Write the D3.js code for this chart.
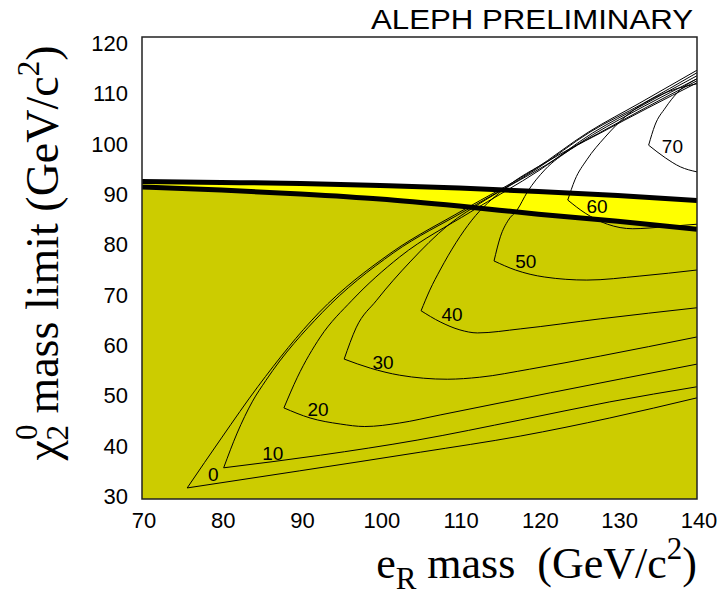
<!DOCTYPE html>
<html>
<head>
<meta charset="utf-8">
<script src="https://cdn.jsdelivr.net/npm/d3@7"></script>
<style>
  body { margin: 0; background: #fff; }
  #chart { width: 718px; height: 595px; }
  text { white-space: pre; }
</style>
</head>
<body>
<div id="chart"></div>
<script>
// axis ticks
const xTicks = [70, 80, 90, 100, 110, 120, 130, 140];
const yTicks = [30, 40, 50, 60, 70, 80, 90, 100, 110, 120];

// excluded band edges (thick black lines)
const bandX = [70, 80, 90, 100, 110, 120, 130, 140];
const bandUpper = [93.1, 92.9, 92.7, 92.3, 91.8, 91.1, 90.3, 89.3];
const bandLower = [92.0, 91.4, 90.6, 89.6, 88.2, 86.6, 85.2, 83.6];

// contour levels, each drawn as two branches from the cusp
const contourLevels = [0, 10, 20, 30, 40, 50, 60, 70];
const contourUpper = [
  [[75.7, 32.2], [80.1, 42.3], [84.6, 52.3], [92.3, 67.0], [101.4, 78.9], [110.5, 87.4], [119.4, 95.4], [126.3, 102.9], [132.8, 108.7], [140, 115.2]],
  [[80.3, 36.2], [82.0, 43.1], [83.9, 49.3], [85.6, 53.5], [92.7, 67.0], [101.7, 78.9], [110.9, 87.4], [119.8, 95.6], [126.5, 102.9], [133.1, 108.5], [140, 114.7]],
  [[87.9, 48.1], [89.6, 54.2], [92.5, 62.2], [96.5, 69.5], [102.5, 78.1], [111.4, 87.0], [120.2, 95.4], [126.8, 102.7], [133.2, 108.3], [140, 114.1]],
  [[95.5, 57.8], [97.0, 64.0], [99.6, 69.5], [103.8, 77.1], [108.6, 84.4], [113.3, 89.4], [121.0, 96.4], [127.0, 102.5], [133.4, 108.1], [140, 113.5]],
  [[105.2, 67.4], [106.3, 71.5], [107.6, 75.5], [111.6, 85.4], [115.5, 91.4], [121.5, 97.4], [127.4, 102.5], [133.7, 107.9], [140, 113.1]],
  [[114.4, 77.3], [115.2, 82.1], [116.2, 85.4], [117.3, 87.4], [118.6, 91.0], [120.8, 95.4], [124.0, 99.4], [127.8, 102.7], [133.8, 107.7], [140, 112.7]],
  [[123.7, 89.4], [124.6, 93.4], [126.1, 97.4], [128.4, 101.9], [131.2, 106.3], [134.1, 109.3], [137.0, 111.3], [140, 112.5]],
  [[133.9, 100.3], [134.7, 104.3], [136.0, 107.7], [137.5, 110.7], [140, 113.5]]
];
const contourLower = [
  [[75.7, 32.2], [89.9, 35.6], [105.1, 39.3], [117.7, 42.5], [129.0, 46.1], [140, 50.1]],
  [[80.3, 36.2], [92.5, 38.7], [104.7, 41.7], [117.7, 45.7], [129.0, 49.3], [140, 52.3]],
  [[87.9, 48.1], [91.2, 46.1], [95.0, 44.9], [98.1, 44.4], [102.5, 45.1], [107.6, 46.7], [121.5, 51.1], [140, 56.8]],
  [[95.5, 57.8], [98.8, 56.0], [102.5, 54.6], [108.5, 53.8], [112.6, 54.2], [118.9, 55.8], [127.8, 58.4], [140, 62.2]],
  [[105.2, 67.4], [107.6, 65.2], [110.1, 63.6], [112.3, 63.0], [117.7, 63.8], [127.8, 65.8], [140, 68.0]],
  [[114.4, 77.3], [117.1, 75.5], [120.8, 74.1], [126.1, 73.5], [132.8, 74.3], [140, 75.5]],
  [[123.7, 89.4], [125.9, 86.8], [128.7, 84.6], [131.9, 83.7], [136.0, 84.1], [140, 84.6]],
  [[133.9, 100.3], [136.0, 97.8], [137.9, 96.0], [140, 95.0]]
];
const contourLabelPos = [[79.0, 34.8], [86.5, 39.1], [92.2, 47.7], [100.4, 57.2], [109.1, 66.6], [118.4, 77.1], [127.4, 88.2], [136.9, 100.1]];

const width = 718, height = 595;
const x = d3.scaleLinear().domain([70, 140]).range([142, 697]);
const y = d3.scaleLinear().domain([30, 121.8]).range([499, 37]);

const svg = d3.select("#chart").append("svg")
  .attr("width", width).attr("height", height)
  .attr("viewBox", [0, 0, width, height]);

svg.append("clipPath").attr("id", "plot")
  .append("rect").attr("x", 142).attr("y", 37).attr("width", 555).attr("height", 462);

const plot = svg.append("g").attr("clip-path", "url(#plot)");

// olive region below the lower limit
const below = d3.area()
  .x((d, i) => x(bandX[i])).y0(y(30)).y1(d => y(d))
  .curve(d3.curveMonotoneX);
plot.append("path").datum(bandLower).attr("d", below).attr("fill", "#cccc00");

// yellow band between the two limits
const band = d3.area()
  .x((d, i) => x(bandX[i])).y0((d, i) => y(bandLower[i])).y1(d => y(d))
  .curve(d3.curveMonotoneX);
plot.append("path").datum(bandUpper).attr("d", band).attr("fill", "#ffff00");

// contours
const line = d3.line().x(d => x(d[0])).y(d => y(d[1])).curve(d3.curveMonotoneX);
contourLevels.forEach((lv, i) => {
  [contourUpper[i], contourLower[i]].forEach(br => {
    plot.append("path").datum(br).attr("d", line)
      .attr("fill", "none").attr("stroke", "#000").attr("stroke-width", 1);
  });
});

// thick limit lines
const edge = d3.line().x((d, i) => x(bandX[i])).y(d => y(d)).curve(d3.curveMonotoneX);
[bandUpper, bandLower].forEach(b => {
  plot.append("path").datum(b).attr("d", edge)
    .attr("fill", "none").attr("stroke", "#000").attr("stroke-width", 5);
});

// contour labels
plot.selectAll("text.lv").data(contourLevels).enter().append("text")
  .attr("class", "lv")
  .attr("x", (d, i) => x(contourLabelPos[i][0]))
  .attr("y", (d, i) => y(contourLabelPos[i][1]))
  .attr("text-anchor", "middle").attr("dominant-baseline", "central")
  .attr("font-family", "Liberation Sans, Arial, sans-serif").attr("font-size", 19)
  .text(d => d);

// frame
svg.append("rect").attr("x", 142).attr("y", 37).attr("width", 555).attr("height", 462)
  .attr("fill", "none").attr("stroke", "#222").attr("stroke-width", 1.5);

// tick labels
svg.selectAll("text.xt").data(xTicks).enter().append("text")
  .attr("class", "xt")
  .attr("x", d => x(d) + 2).attr("y", 528)
  .attr("text-anchor", "middle")
  .attr("font-family", "Liberation Sans, Arial, sans-serif").attr("font-size", 22)
  .text(d => d);

svg.selectAll("text.yt").data(yTicks).enter().append("text")
  .attr("class", "yt")
  .attr("x", 128).attr("y", d => y(d) + 5)
  .attr("text-anchor", "end")
  .attr("font-family", "Liberation Sans, Arial, sans-serif").attr("font-size", 22)
  .text(d => d);

// header
svg.append("text").attr("x", 693).attr("y", 29).attr("text-anchor", "end")
  .attr("font-family", "Liberation Sans, Arial, sans-serif").attr("font-size", 28)
  .attr("textLength", 322).attr("lengthAdjust", "spacingAndGlyphs")
  .text("ALEPH PRELIMINARY");

// x title
const xt = svg.append("text").attr("x", 697).attr("y", 578).attr("text-anchor", "end")
  .attr("font-family", "Liberation Serif, Times New Roman, serif").attr("font-size", 44);
xt.append("tspan").text("e");
xt.append("tspan").attr("font-size", 31).attr("dy", 11).text("R");
xt.append("tspan").attr("dy", -11).text(" mass  (GeV/c");
xt.append("tspan").attr("font-size", 31).attr("dy", -19).text("2");
xt.append("tspan").attr("dy", 19).text(")");

// y title
const yt = svg.append("text")
  .attr("transform", "translate(58,253) rotate(-90)")
  .attr("text-anchor", "middle")
  .attr("font-family", "Liberation Serif, Times New Roman, serif").attr("font-size", 46);
yt.append("tspan").text("\u03c7");
yt.append("tspan").attr("font-size", 31).attr("dy", -21).text("0");
yt.append("tspan").attr("font-size", 31).attr("dx", -16).attr("dy", 31).text("2");
yt.append("tspan").attr("dy", -10).text(" mass limit (GeV/c");
yt.append("tspan").attr("font-size", 31).attr("dy", -19).text("2");
yt.append("tspan").attr("dy", 19).text(")");
</script>
</body>
</html>
